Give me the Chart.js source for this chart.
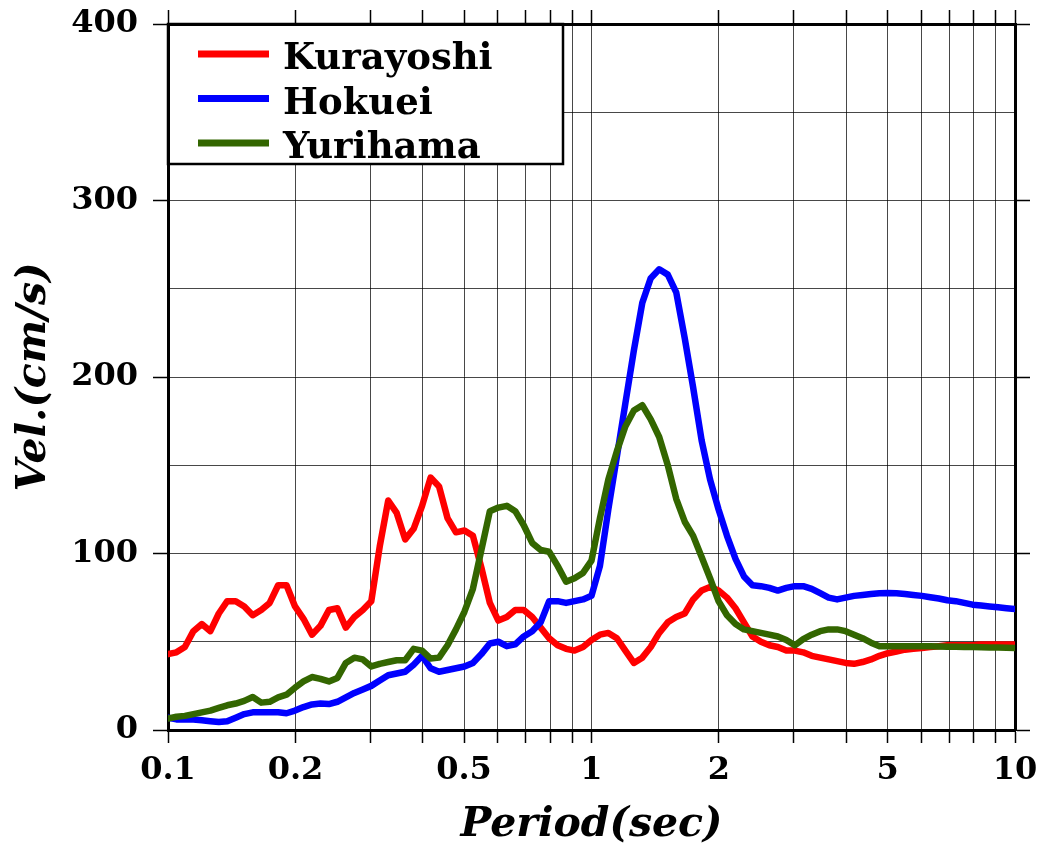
<!DOCTYPE html>
<html>
<head>
<meta charset="utf-8">
<title>Velocity response spectra</title>
<script src="https://cdn.jsdelivr.net/npm/chart.js@4.4.1/dist/chart.umd.min.js"></script>
<style>
  html, body { margin: 0; padding: 0; background: #fff; }
  #wrap { width: 1044px; height: 850px; }
</style>
</head>
<body>
<div id="wrap"><canvas id="spectraChart" width="1044" height="850"></canvas></div>
<script>
// periods (sec)
const periods = [
  0.1, 0.1047, 0.1096, 0.1148, 0.1202, 0.1259, 0.1318, 0.138, 0.1445, 0.1514,
  0.1585, 0.166, 0.1738, 0.182, 0.1905, 0.1995, 0.2089, 0.2188, 0.2291, 0.2399,
  0.2512, 0.263, 0.2754, 0.2884, 0.302, 0.3162, 0.3311, 0.3467, 0.3631, 0.3802,
  0.3981, 0.4169, 0.4365, 0.4571, 0.4786, 0.5012, 0.5248, 0.5495, 0.5754, 0.6026,
  0.631, 0.6607, 0.6918, 0.7244, 0.7586, 0.7943, 0.8318, 0.871, 0.912, 0.955,
  1, 1.047, 1.096, 1.148, 1.202, 1.259, 1.318, 1.38, 1.445, 1.514,
  1.585, 1.66, 1.738, 1.82, 1.905, 1.995, 2.089, 2.188, 2.291, 2.399,
  2.512, 2.63, 2.754, 2.884, 3.02, 3.162, 3.311, 3.467, 3.631, 3.802,
  3.981, 4.169, 4.365, 4.571, 4.786, 5.012, 5.248, 5.495, 5.754, 6.026,
  6.31, 6.607, 6.918, 7.244, 7.586, 7.943, 8.318, 8.71, 9.12, 9.55, 10
];

// velocity (cm/s)
const kurayoshi = [
  43, 44, 47, 56, 60, 56, 66, 73, 73, 70,
  65, 68, 72, 82, 82, 70, 63, 54, 59, 68,
  69, 58, 64, 68, 73, 104, 130, 123, 108, 114,
  127, 143, 138, 120, 112, 113, 110, 92, 72, 62,
  64, 68, 68, 64, 58, 52, 48, 46, 45, 47,
  51, 54, 55, 52, 45, 38, 41, 47, 55, 61,
  64, 66, 74, 79, 81, 79, 75, 69, 61, 53,
  50, 48, 47, 45, 45, 44, 42, 41, 40, 39,
  38, 37.5, 38.5, 40, 42, 43.5, 44.5, 45.5, 46, 46.5,
  47, 47.5, 48, 48, 48, 48, 48.5, 48.5, 48.5, 48.5, 48.5
];

const hokuei = [
  7, 6, 6, 6, 5.5, 5, 4.5, 5, 7, 9,
  10, 10, 10, 10, 9.5, 11, 13, 14.5, 15, 14.7,
  16, 18.5, 21, 23, 25, 28, 31, 32, 33, 37,
  42, 35, 33, 34, 35, 36, 38, 43, 49, 50,
  47.5, 48.5, 53, 56, 61, 73, 73, 72, 73, 74,
  76, 93, 125, 155, 185, 215, 242, 256, 261, 258,
  248, 222, 194, 164, 142, 125, 110, 97, 87, 82,
  81.5, 80.5, 79, 80.5, 81.5, 81.5, 80, 77.5, 75, 74,
  75, 76, 76.5, 77, 77.5, 77.6, 77.5, 77, 76.5, 76,
  75.2, 74.5, 73.5, 73, 72, 71, 70.5, 70, 69.5, 69, 68.5
];

const yurihama = [
  6.5, 7.5, 8, 9, 10, 11, 12.5, 14, 15, 16.5,
  18.7, 15.5, 16, 18.5, 20, 24, 27.5, 30, 29, 27.5,
  29.5, 38, 41, 40, 36, 37.5, 38.5, 39.5, 39.5, 46,
  45, 40.5, 41, 48, 57, 67, 80, 102, 124, 126,
  127, 124, 116, 106, 102, 101, 93, 84, 86, 89,
  96, 120, 142, 158, 172, 181, 184, 176, 166, 150,
  131, 118, 110, 98, 86, 73, 65, 60, 57, 56,
  55, 54, 53, 51, 48, 51.5, 54, 56, 57, 57,
  56, 54, 52, 49.5, 47.5, 47.5, 47.5, 47.5, 47.5, 47.5,
  47.4, 47.3, 47.2, 47.1, 47, 47, 46.9, 46.8, 46.7, 46.6, 46.5
];

// grid positions on the period axis, and the ones that get a label
const xGridValues = [
  0.1, 0.2, 0.3, 0.4, 0.5, 0.6, 0.7, 0.8, 0.9,
  1, 2, 3, 4, 5, 6, 7, 8, 9, 10
];
const xTickLabels = [0.1, 0.2, 0.5, 1, 2, 5, 10];
const yTickLabels = [0, 100, 200, 300, 400];

const serif = "'DejaVu Serif', 'Liberation Serif', serif";
const gridColor = "rgba(0, 0, 0, 0.72)";

const toPoints = (vals) => periods.map((p, i) => ({ x: p, y: vals[i] }));

// legend box drawn inside the top-left corner of the plot
const legendBox = {
  id: "legendBox",
  afterDraw(chart) {
    const { ctx, chartArea } = chart;
    const left = chartArea.left;
    const top = chartArea.top;
    const w = 395;
    const h = 140;
    ctx.save();
    ctx.fillStyle = "#fff";
    ctx.fillRect(left + 2, top + 2, w - 2, h - 2);
    ctx.strokeStyle = "#000";
    ctx.lineWidth = 2.5;
    ctx.strokeRect(left, top, w, h);
    ctx.font = "bold 37px " + serif;
    ctx.textBaseline = "alphabetic";
    ctx.textAlign = "left";
    chart.data.datasets.forEach((ds, i) => {
      const y = top + 30 + i * 44.5;
      ctx.strokeStyle = ds.borderColor;
      ctx.lineWidth = 7;
      ctx.beginPath();
      ctx.moveTo(left + 30, y);
      ctx.lineTo(left + 101, y);
      ctx.stroke();
      ctx.fillStyle = "#000";
      ctx.fillText(ds.label, left + 115, y + 15);
    });
    ctx.restore();
  },
};

const setXTicks = (scale) => {
  scale.ticks = xGridValues.map((v) => ({ value: v }));
};
const yTickColor = (c) =>
  c.tick && yTickLabels.includes(c.tick.value) ? "#000" : "rgba(0,0,0,0)";

// fixed box sizes so the plot area lands where the original has it
const fitBox = (w, h) => (s) => {
  if (w !== null) s.width = w;
  if (h !== null) s.height = h;
  s.paddingTop = 0;
  s.paddingBottom = 0;
  s.paddingLeft = 0;
  s.paddingRight = 0;
};

const ctx = document.getElementById("spectraChart").getContext("2d");
new Chart(ctx, {
  type: "line",
  data: {
    datasets: [
      { label: "Kurayoshi", data: toPoints(kurayoshi), borderColor: "#ff0000", order: 3 },
      { label: "Hokuei", data: toPoints(hokuei), borderColor: "#0000ff", order: 2 },
      { label: "Yurihama", data: toPoints(yurihama), borderColor: "#336600", order: 1 },
    ],
  },
  options: {
    responsive: false,
    animation: false,
    layout: { padding: 0 },
    elements: {
      point: { radius: 0 },
      line: { borderWidth: 6.5, tension: 0, borderJoinStyle: "round", borderCapStyle: "round", fill: false },
    },
    plugins: {
      legend: { display: false },
      tooltip: { enabled: false },
    },
    scales: {
      x: {
        type: "logarithmic",
        position: "bottom",
        min: 0.1,
        max: 10,
        afterBuildTicks: setXTicks,
        afterFit: fitBox(null, 120),
        grid: { color: gridColor, lineWidth: 1, tickLength: 13, tickWidth: 1.5, tickColor: "#000" },
        border: { color: "#000", width: 3 },
        ticks: {
          autoSkip: false,
          maxRotation: 0,
          padding: 8,
          color: "#000",
          font: { family: serif, size: 32, weight: "bold" },
          callback: (v) => (xTickLabels.includes(v) ? String(v) : ""),
        },
        title: {
          display: true,
          text: "Period(sec)",
          color: "#000",
          font: { family: serif, size: 41, weight: "bold", style: "italic" },
          padding: { top: 0, bottom: 0 },
        },
      },
      x2: {
        type: "logarithmic",
        position: "top",
        min: 0.1,
        max: 10,
        afterBuildTicks: setXTicks,
        afterFit: fitBox(null, 24),
        grid: { drawOnChartArea: false, tickLength: 14, tickWidth: 1.5, tickColor: "#000" },
        border: { color: "#000", width: 3 },
        ticks: { display: false },
      },
      y: {
        position: "left",
        min: 0,
        max: 400,
        afterFit: fitBox(168, null),
        grid: { color: gridColor, lineWidth: 1, tickLength: 15, tickWidth: 1.5, tickColor: yTickColor },
        border: { color: "#000", width: 3 },
        ticks: {
          stepSize: 50,
          autoSkip: false,
          padding: 15,
          color: "#000",
          font: { family: serif, size: 32, weight: "bold" },
          callback: (v) => (yTickLabels.includes(v) ? String(v) : ""),
        },
        title: {
          display: true,
          text: "Vel.(cm/s)",
          color: "#000",
          font: { family: serif, size: 41, weight: "bold", style: "italic" },
          padding: { top: 10, bottom: 0 },
        },
      },
      y2: {
        position: "right",
        min: 0,
        max: 400,
        afterFit: fitBox(29, null),
        grid: { drawOnChartArea: false, tickLength: 15, tickWidth: 1.5, tickColor: yTickColor },
        border: { color: "#000", width: 3 },
        ticks: { display: false, stepSize: 50 },
      },
    },
  },
  plugins: [legendBox],
});
</script>
</body>
</html>
